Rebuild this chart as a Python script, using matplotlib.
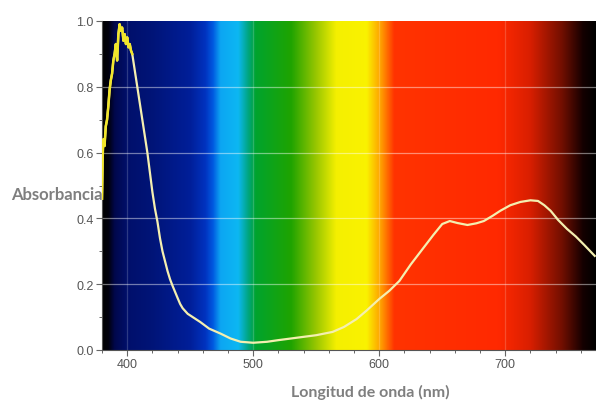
import numpy as np
import matplotlib.pyplot as plt
from matplotlib.ticker import MultipleLocator

# absorbance spectrum
wavelength = [380, 380.5, 381, 382, 383, 384, 385, 386, 387, 388, 389, 390, 391,
              392, 392.5, 393, 394, 395, 396, 397, 398, 399, 400, 401, 402, 403,
              404, 406, 408, 410, 412, 414, 416, 418, 420, 422, 424, 426, 428,
              430, 432, 434, 436, 440, 442, 444, 448, 452, 458, 465, 474, 482,
              490, 500, 511, 520, 530, 540, 550, 563, 572, 582, 590, 600, 608,
              616, 625, 635, 643, 650, 656, 662, 670, 677, 683, 690, 696, 704,
              712, 720, 726, 731, 736, 742, 749, 756, 763, 771]
absorbance = [0.46, 0.58, 0.64, 0.62, 0.68, 0.70, 0.74, 0.79, 0.82, 0.84, 0.88,
              0.90, 0.93, 0.88, 0.92, 0.96, 0.99, 0.97, 0.98, 0.94, 0.96, 0.93,
              0.95, 0.92, 0.93, 0.91, 0.90, 0.85, 0.80, 0.75, 0.70, 0.65, 0.60,
              0.54, 0.48, 0.43, 0.39, 0.34, 0.30, 0.27, 0.24, 0.215, 0.195,
              0.158, 0.14, 0.127, 0.11, 0.10, 0.085, 0.065, 0.05, 0.035, 0.025,
              0.022, 0.025, 0.03, 0.035, 0.04, 0.045, 0.055, 0.07, 0.094, 0.12,
              0.155, 0.18, 0.21, 0.26, 0.31, 0.35, 0.383, 0.392, 0.386, 0.38,
              0.385, 0.392, 0.408, 0.423, 0.44, 0.45, 0.455, 0.453, 0.44, 0.423,
              0.395, 0.368, 0.345, 0.318, 0.286]

x_ticks = [400, 500, 600, 700]
y_ticks = [0.0, 0.2, 0.4, 0.6, 0.8, 1.0]

# visible spectrum colour stops for the background
stop_nm = [380, 385, 390, 400, 420, 450, 462, 468, 474, 488, 496, 502, 530,
           550, 566, 590, 602, 612, 695, 720, 745, 762, 772]
stop_rgb = [(0, 0, 0), (0, 0, 0.05), (0, 0.03, 0.3), (0, 0.06, 0.42),
            (0, 0.08, 0.47), (0, 0.12, 0.6), (0, 0.2, 0.75), (0, 0.35, 0.88),
            (0.05, 0.65, 0.95), (0.05, 0.72, 0.95), (0.0, 0.65, 0.5),
            (0.0, 0.64, 0.18), (0.12, 0.64, 0.0), (0.6, 0.78, 0.0),
            (0.96, 0.94, 0.0), (0.98, 0.95, 0.0), (1.0, 0.6, 0.0),
            (1.0, 0.2, 0.0), (1.0, 0.16, 0.0), (0.85, 0.12, 0.0),
            (0.45, 0.06, 0.0), (0.08, 0.0, 0.0), (0, 0, 0)]

x_min, x_max = 380, 772

fig = plt.figure(figsize=(5.96, 4.02), dpi=100)
ax = fig.add_axes([102 / 596, 51 / 402, 1 - 102 / 596, 329 / 402])

grid_nm = np.linspace(x_min, x_max, 800)
rgb = np.array(stop_rgb)
band = np.stack([np.interp(grid_nm, stop_nm, rgb[:, k]) for k in range(3)], axis=-1)
ax.imshow(band[np.newaxis, :, :], extent=[x_min, x_max, 0, 1], aspect='auto',
          interpolation='bilinear', zorder=0)

for v in y_ticks[1:-1]:
    ax.axhline(v, color='white', alpha=0.45, lw=0.9, zorder=1)
for v in x_ticks:
    ax.axvline(v, color='white', alpha=0.18, lw=0.9, zorder=1)

ax.plot(wavelength, absorbance, color='#f4efb0', lw=1.6, zorder=3)
n_peak = wavelength.index(404) + 1
ax.plot(wavelength[:n_peak], absorbance[:n_peak], color='#f2e62a', lw=1.8, zorder=4)

ax.set_xlim(x_min, x_max)
ax.set_ylim(0, 1.0)
ax.set_xticks(x_ticks)
ax.set_yticks(y_ticks)
ax.set_yticklabels([f'{v:.1f}' for v in y_ticks])
ax.xaxis.set_minor_locator(MultipleLocator(20))
ax.yaxis.set_minor_locator(MultipleLocator(0.1))
ax.tick_params(which='major', length=4, width=0.8, color='#666666',
               labelsize=9, labelcolor='#555555', pad=2)
ax.tick_params(which='minor', length=2.5, width=0.7, color='#666666')
for lbl in ax.get_xticklabels() + ax.get_yticklabels():
    lbl.set_family('Liberation Sans')
for side in ['top', 'right']:
    ax.spines[side].set_visible(False)
for side in ['left', 'bottom']:
    ax.spines[side].set_color('#555555')
    ax.spines[side].set_linewidth(0.8)

fig.text(11 / 596, 1 - 195 / 402, 'Absorbancia', ha='left', va='center',
         fontsize=12, fontweight='bold', color='#7f7f7f', family='Lato', zorder=0)
fig.text(370 / 596, 1 - 392 / 402, 'Longitud de onda (nm)', ha='center',
         va='center', fontsize=11.5, fontweight='bold', color='#7f7f7f', family='Lato')

fig.savefig('out.png', dpi=100)
